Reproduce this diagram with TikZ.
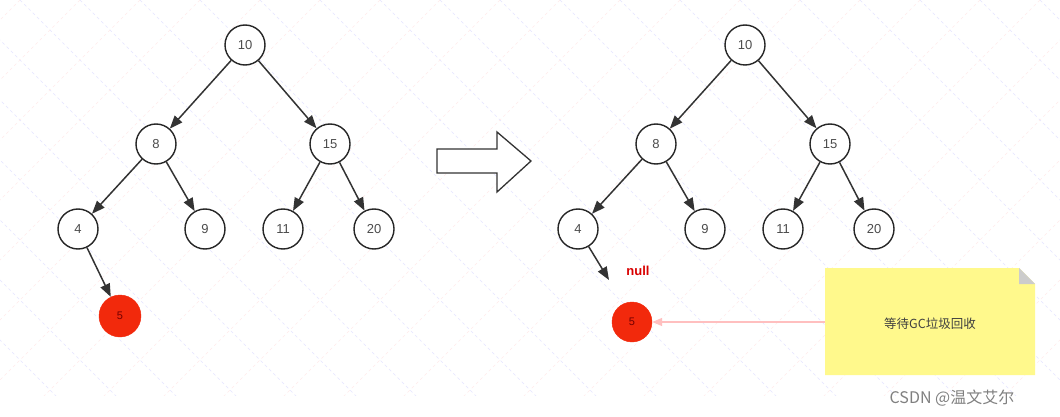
\documentclass[tikz,border=0pt]{standalone}
\usepackage{fontspec}
\setmainfont{Liberation Sans}
\newfontfamily\cjk{Noto Sans CJK SC}
\usetikzlibrary{arrows.meta}
\definecolor{rfill}{HTML}{F2290C}
\begin{document}
\begin{tikzpicture}[x=1pt,y=-1pt,
  nd/.style={circle,draw=black!85,line width=1.4pt,minimum size=40pt,inner sep=0pt,font=\fontsize{13}{13}\selectfont,text=black!70,fill=white},
  rd/.style={circle,fill=rfill,draw=rfill,minimum size=42pt,inner sep=0pt,font=\fontsize{11}{11}\selectfont,text=red!45!black},
  ed/.style={line width=1.5pt,draw=black!80,-{Triangle[length=13pt,width=10pt]}}]
\useasboundingbox (0,0) rectangle (1060,417);
\fill[white] (0,0) rectangle (1060,417);
\begin{scope}
\clip (0,0) rectangle (1060,395);
\foreach \i in {-400,-340,...,1460} {
  \draw[blue!10,dashed,line width=0.5pt] (\i,0) -- ++(420,420);
  \draw[red!8,dashed,line width=0.5pt] (\i,0) -- ++(-420,420);
}
\end{scope}
% left tree
\node[nd] (a10) at (245,45) {10};
\node[nd] (a8) at (156,144) {8};
\node[nd] (a15) at (330,144) {15};
\node[nd] (a4) at (78,229) {4};
\node[nd] (a9) at (205,229) {9};
\node[nd] (a11) at (283,229) {11};
\node[nd] (a20) at (374,229) {20};
\node[rd] (a5) at (120,316) {5};
\draw[ed] (a10) -- (a8); \draw[ed] (a10) -- (a15);
\draw[ed] (a8) -- (a4); \draw[ed] (a8) -- (a9);
\draw[ed] (a15) -- (a11); \draw[ed] (a15) -- (a20);
\draw[ed] (a4) -- (a5);
% arrow
\draw[line width=1.3pt,draw=black!80,fill=white] (437,149) -- (497,149) -- (497,132) -- (531,161) -- (497,192) -- (497,173) -- (437,173) -- cycle;
% right tree
\node[nd] (b10) at (745,45) {10};
\node[nd] (b8) at (656,144) {8};
\node[nd] (b15) at (830,144) {15};
\node[nd] (b4) at (578,229) {4};
\node[nd] (b9) at (705,229) {9};
\node[nd] (b11) at (783,229) {11};
\node[nd] (b20) at (874,229) {20};
\node[rd,minimum size=40pt] (b5) at (632,322) {5};
\draw[ed] (b10) -- (b8); \draw[ed] (b10) -- (b15);
\draw[ed] (b8) -- (b4); \draw[ed] (b8) -- (b9);
\draw[ed] (b15) -- (b11); \draw[ed] (b15) -- (b20);
\coordinate (nl) at (609,280);
\draw[ed] (b4) -- (nl);
\node[text=red!85!black,font=\bfseries\fontsize{13}{13}\selectfont] (null) at (638,271) {null};
% note
\fill[yellow!45] (825,268) -- (1019,268) -- (1035,284) -- (1035,375) -- (825,375) -- cycle;
\fill[black!20] (1019,268) -- (1035,284) -- (1019,284) -- cycle;
\node[font=\cjk\fontsize{12.5}{12.5}\selectfont,text=black!75] (note) at (930,324) {等待GC垃圾回收};
\coordinate (ne) at (825,322);
\draw[red!25,line width=1.3pt,-{Triangle[length=10pt,width=8pt]}] (ne) -- (b5);
\node[font=\cjk\fontsize{16}{16}\selectfont,text=black!50] (wm) at (952,398) {CSDN @温文艾尔};
\end{tikzpicture}
\end{document}
